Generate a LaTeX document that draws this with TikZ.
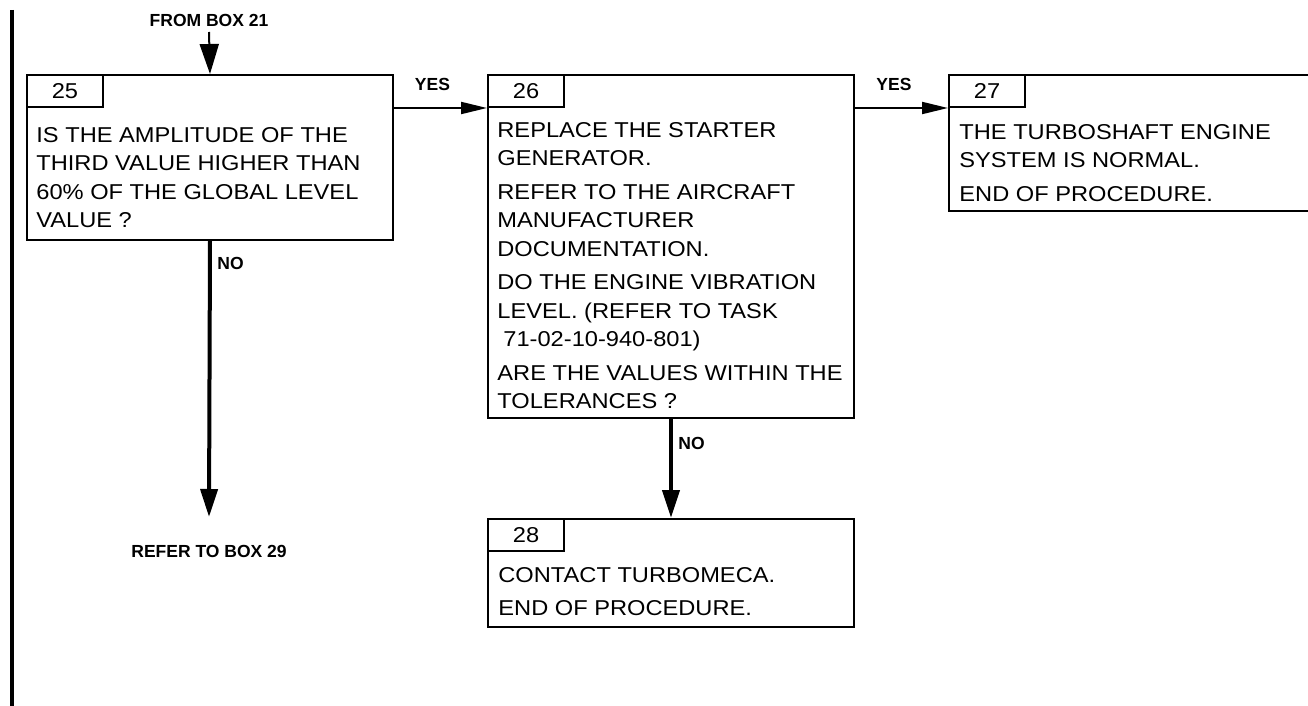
\documentclass[tikz,border=0pt]{standalone}
\usepackage{fontspec}
\setmainfont{Liberation Sans}
\newfontfamily\boxfont[FakeStretch=1.10]{Liberation Sans}
\usetikzlibrary{positioning, arrows.meta, calc}

\begin{document}
\begin{tikzpicture}[x=0.5pt, y=-0.5pt,
    stepbox/.style={draw, line width=1pt, minimum width=183pt, anchor=north west, inner sep=0pt},
    numtab/.style={draw, line width=1pt, minimum width=38pt, minimum height=16pt, anchor=north west, inner sep=0pt, font=\boxfont\fontsize{10.75}{12}\selectfont},
    boxtext/.style={anchor=north west, align=left, inner sep=0pt, font=\boxfont\fontsize{10.75}{14.25}\selectfont},
    flowlbl/.style={inner sep=0pt, font=\bfseries\fontsize{8.75}{10}\selectfont},
    yesarrow/.style={line width=1pt, -{Triangle[length=13pt, width=6pt]}},
    noarrow/.style={line width=2pt, -{Triangle[length=14pt, width=8.5pt]}},
    fromarrow/.style={line width=1pt, -{Triangle[length=15pt, width=9.5pt]}}]
    \path[use as bounding box, clip] (0,0) rectangle (1308,706);

    % Left margin bar
    \draw[line width=2pt] (12,10) -- (12,706);

    % Box 25
    \node[stepbox, minimum height=82.5pt] (b25) at (26,74) {};
    \node[numtab] (n25) at (b25.north west) {25};
    \node[boxtext] (t25) at (36,127) {IS THE AMPLITUDE OF THE\\THIRD VALUE HIGHER THAN\\60\% OF THE GLOBAL LEVEL\\VALUE ?};

    % Box 26
    \node[stepbox, minimum height=171.5pt] (b26) at (487,74) {};
    \node[numtab] (n26) at (b26.north west) {26};
    \node[boxtext] (t26) at (497,122) {REPLACE THE STARTER\\GENERATOR.\\[2.5pt]
        REFER TO THE AIRCRAFT\\MANUFACTURER\\DOCUMENTATION.\\[2.5pt]
        DO THE ENGINE VIBRATION\\LEVEL. (REFER TO TASK\\\hspace{3pt}71-02-10-940-801)\\[2.5pt]
        ARE THE VALUES WITHIN THE\\TOLERANCES ?};

    % Box 27
    \node[stepbox, minimum width=182pt, minimum height=68pt] (b27) at (948,74) {};
    \node[numtab] (n27) at (b27.north west) {27};
    \node[boxtext] (t27) at (959,124) {THE TURBOSHAFT ENGINE\\SYSTEM IS NORMAL.\\[2.5pt]END OF PROCEDURE.};

    % Box 28
    \node[stepbox, minimum height=54pt] (b28) at (487,518) {};
    \node[numtab] (n28) at (b28.north west) {28};
    \node[boxtext] (t28) at (498,567) {CONTACT TURBOMECA.\\[2.5pt]END OF PROCEDURE.};

    % Entry and exit labels
    \node[flowlbl] (from21) at (209,20.5) {FROM BOX 21};
    \node[flowlbl] (ref29) at (209,551.5) {REFER TO BOX 29};
    \coordinate (end25) at (209,517);

    % Connectors
    \draw[fromarrow] (209,32) -- (b25.north);
    \draw[yesarrow] (b25.east |- n26.south west) -- (n26.south west);
    \draw[yesarrow] (b26.east |- n27.south west) -- (n27.south west);
    \draw[noarrow] (b25.south) -- (end25);
    \draw[noarrow] (b26.south) -- (b28.north);

    % Branch labels
    \node[flowlbl] (yes25) at (432.5,84.5) {YES};
    \node[flowlbl] (yes26) at (894,84.5) {YES};
    \node[flowlbl] (no25) at (230.5,263.5) {NO};
    \node[flowlbl] (no26) at (691.5,443.5) {NO};
\end{tikzpicture}
\end{document}
